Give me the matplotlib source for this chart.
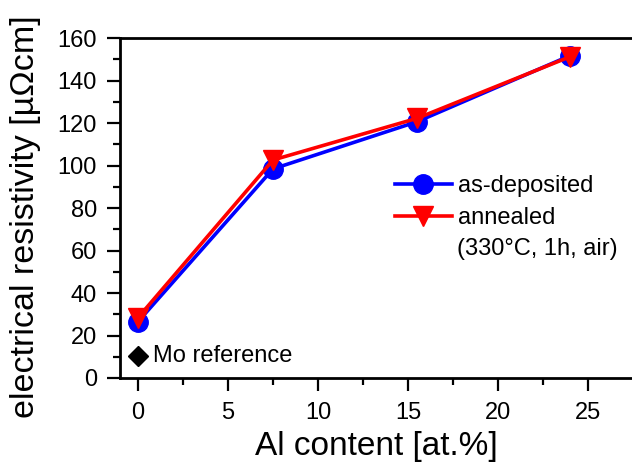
import numpy as np
import matplotlib
matplotlib.use('Agg')
import matplotlib.pyplot as plt
from matplotlib.ticker import MultipleLocator

plt.rcParams['font.family'] = ['Liberation Sans', 'DejaVu Sans']

# Al content and resistivity
al = [0, 7.5, 15.5, 24]
rho_dep = [26.5, 98.4, 120.6, 151.7]
rho_ann = [28.4, 102.6, 122.2, 151.2]
mo_x = [0]
mo_rho = [10.4]

fig = plt.figure(figsize=(6.32, 4.65), dpi=100)
ax = fig.add_axes([120/632, 1 - 378/465, 1 - 120/632, (378 - 38)/465])

ax.plot(al, rho_dep, '-o', color='blue', lw=2.6, ms=14, label='as-deposited')
ax.plot(al, rho_ann, '-v', color='red', lw=2.6, ms=15, label='annealed')
ax.plot(mo_x, mo_rho, 'D', color='black', ms=10, clip_on=False)
ax.text(0.85, mo_rho[0], 'Mo reference', fontsize=17, va='center', ha='left')

ax.set_xlim(-1, 27.44)
ax.set_ylim(0, 160)
ax.xaxis.set_major_locator(MultipleLocator(5))
ax.xaxis.set_minor_locator(MultipleLocator(2.5))
ax.yaxis.set_major_locator(MultipleLocator(20))
ax.yaxis.set_minor_locator(MultipleLocator(10))
ax.tick_params(which='major', direction='out', length=9.5, width=1.6, labelsize=17)
ax.tick_params(which='minor', direction='out', length=5, width=1.6)
ax.tick_params(axis='x', which='major', pad=8)
ax.tick_params(axis='y', which='major', pad=7)
ax.spines['right'].set_visible(False)
for s in ['left', 'bottom', 'top']:
    ax.spines[s].set_linewidth(2)

ax.set_xlabel('Al content [at.%]', fontsize=24, labelpad=5)
ax.set_ylabel('electrical resistivity [µΩcm]', fontsize=24.5, labelpad=5)
ax.yaxis.set_label_coords(-0.155, 0.475)

leg = ax.legend(loc='upper left', bbox_to_anchor=((395 - 120)/512, (378 - 175)/340), frameon=False,
                fontsize=17, handlelength=2.4, handletextpad=0.25, labelspacing=0.42,
                borderaxespad=0, borderpad=0)
ax.text(457, 465 - 249, '(330°C, 1h, air)', transform=None, fontsize=17, va='center', ha='left')

fig.savefig('out.png', dpi=100)
